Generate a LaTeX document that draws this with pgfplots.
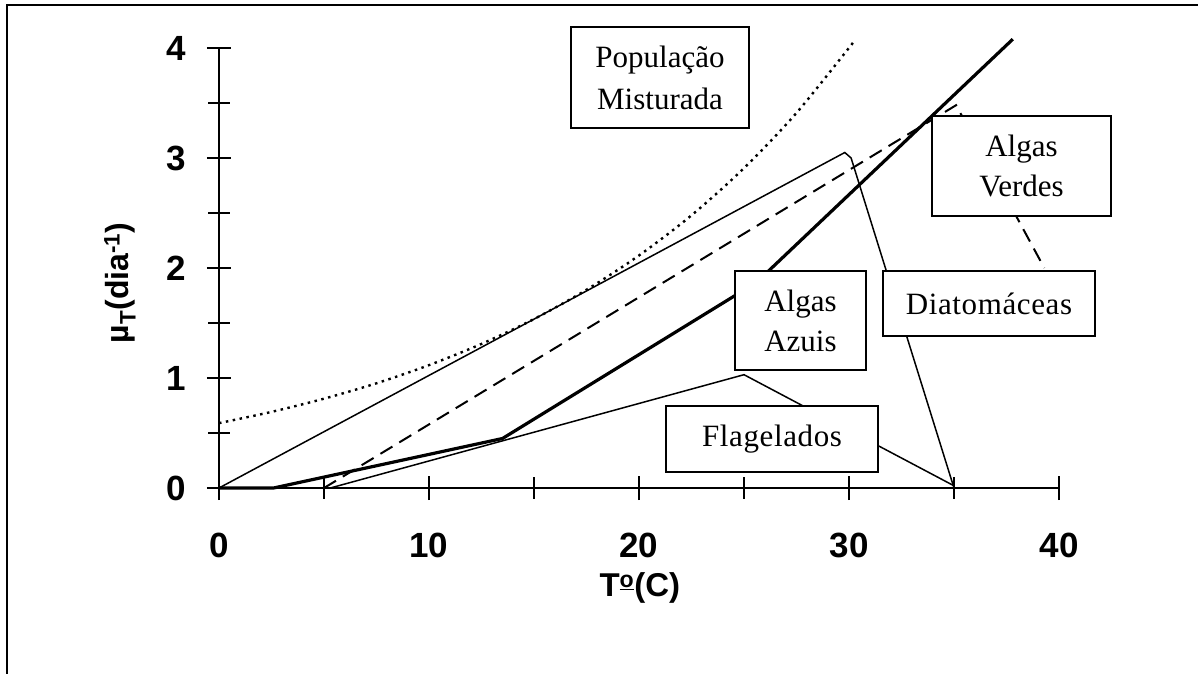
\documentclass[border=0pt]{standalone}
\usepackage{fontspec}
\setmainfont{Liberation Serif}
\newfontfamily\arial{Liberation Sans}
\usepackage{pgfplots}
\pgfplotsset{compat=1.18}
\begin{document}
\begin{tikzpicture}
\path[use as bounding box] (0bp,0bp) rectangle (1198bp,674bp);
\draw[line width=2.4bp] (7bp,-2bp) -- (7bp,669bp) -- (1200bp,669bp);
\begin{axis}[
  at={(219bp,186bp)}, anchor=south west,
  scale only axis, width=840bp, height=440bp,
  xmin=0, xmax=40, ymin=0, ymax=4,
  axis lines=left, axis line style={-, line width=1.6bp},
  clip=false,
  xtick={0,10,20,30,40}, ytick={0,1,2,3,4},
  minor xtick={5,15,25,35}, minor ytick={0.5,1.5,2.5,3.5},
  tick align=center, major tick length=24bp, minor tick length=21bp,
  tick style={black, line width=1.6bp},
  minor tick style={black, line width=1.6bp},
  /pgf/number format/assume math mode=true,
  ticklabel style={font=\arial\bfseries\fontsize{35bp}{38bp}\selectfont, inner sep=0pt},
  xticklabel style={anchor=north, yshift=-33bp},
  yticklabel style={anchor=east, xshift=-21bp},
  xlabel={T\textsuperscript{\underline{o}}(C)},
  xlabel style={at={(axis description cs:0.501,-0.228)}, anchor=center, font=\arial\bfseries\fontsize{33bp}{36bp}\selectfont},
  ylabel={µ\textsubscript{T}(dia\textsuperscript{-1})},
  ylabel style={at={(axis description cs:-0.118,0.466)}, anchor=center, font=\arial\bfseries\fontsize{32bp}{36bp}\selectfont},
]
% Populacao Misturada (dotted)
\addplot[black, line width=2.4bp, dash pattern=on 2.5bp off 4.5bp, smooth] coordinates {
 (0,0.59) (2.5,0.692) (5,0.812) (7.5,0.952) (10,1.117) (12.5,1.310) (15,1.536)
 (17.5,1.802) (20,2.114) (22.5,2.479) (25,2.908) (27.5,3.410) (30.2,4.05)};
% Diatomaceas (thin solid)
\addplot[black, line width=1.5bp] coordinates {(0,0) (29.8,3.05) (30.1,3.0) (35,0)};
% Algas Verdes (dashed)
\addplot[black, line width=2bp, dash pattern=on 14bp off 8bp] coordinates {(5,0) (35.1,3.48) (39.3,2.0)};
% Algas Azuis (thick)
\addplot[black, line width=3.2bp] coordinates {(0,0) (2.6,0) (13.5,0.45) (25.6,1.87) (37.8,4.08)};
% Flagelados (thin)
\addplot[black, line width=1.5bp] coordinates {(5.3,0) (25,1.03) (35,0.02)};
\end{axis}
\begin{scope}[line width=1.8bp]
\draw[fill=white] (571bp,546bp) rectangle (749bp,647bp);
\node[align=center, font=\fontsize{31bp}{42bp}\selectfont] at (660bp,596.5bp) {População\\Misturada};
\draw[fill=white] (932bp,458bp) rectangle (1111bp,558bp);
\node[align=center, font=\fontsize{31bp}{40bp}\selectfont] at (1021.5bp,508bp) {Algas\\Verdes};
\draw[fill=white] (735bp,304bp) rectangle (866bp,403bp);
\node[align=center, font=\fontsize{31bp}{40bp}\selectfont] at (800.5bp,353.5bp) {Algas\\Azuis};
\draw[fill=white] (883bp,338bp) rectangle (1095bp,403bp);
\node[font=\fontsize{31bp}{36bp}\selectfont\addfontfeatures{LetterSpace=2}] at (989bp,370.5bp) {Diatomáceas};
\draw[fill=white] (666bp,202bp) rectangle (878bp,268bp);
\node[font=\fontsize{31bp}{36bp}\selectfont\addfontfeatures{LetterSpace=2}] at (772bp,235bp) {Flagelados};
\end{scope}
\end{tikzpicture}
\end{document}
